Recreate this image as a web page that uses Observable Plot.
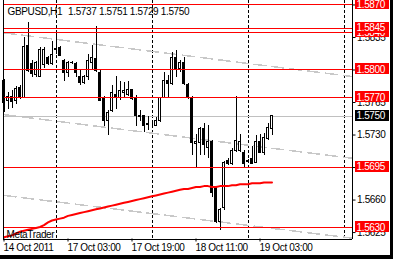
<!DOCTYPE html>
<html><head><meta charset="utf-8">
<script src="https://cdn.jsdelivr.net/npm/d3@7"></script>
<script src="https://cdn.jsdelivr.net/npm/@observablehq/plot@0.6"></script>
<style>
html,body{margin:0;padding:0;background:#000;}
#chart{width:390px;height:255px;overflow:hidden;}
</style></head><body><div id="chart"></div>
<script>
const symbol = "GBPUSD,H1";
const open  = [1.5788,1.5767,1.5771,1.5767,1.5781,1.5770,1.5826,1.5806,1.5795,1.5793,1.5805,1.5813,1.5806,1.5822,1.5824,1.5810,1.5797,1.5808,1.5806,1.5792,1.5786,1.5792,1.5808,1.5812,1.5797,1.5770,1.5745,1.5756,1.5773,1.5770,1.5775,1.5773,1.5778,1.5770,1.5751,1.5750,1.5742,1.5742,1.5740,1.5745,1.5770,1.5788,1.5785,1.5813,1.5801,1.5807,1.5784,1.5770,1.5720,1.5721,1.5737,1.5716,1.5722,1.5672,1.5636,1.5651,1.5702,1.5699,1.5713,1.5713,1.5711,1.5701,1.5704,1.5700,1.5722,1.5711,1.5726,1.5737];
const high  = [1.5790,1.5776,1.5778,1.5782,1.5783,1.5835,1.5851,1.5810,1.5809,1.5824,1.5824,1.5815,1.5831,1.5840,1.5825,1.5811,1.5809,1.5809,1.5808,1.5801,1.5794,1.5817,1.5826,1.5847,1.5800,1.5772,1.5756,1.5783,1.5793,1.5788,1.5787,1.5788,1.5779,1.5773,1.5756,1.5751,1.5750,1.5745,1.5749,1.5770,1.5797,1.5794,1.5819,1.5821,1.5810,1.5813,1.5786,1.5771,1.5731,1.5738,1.5742,1.5740,1.5724,1.5673,1.5651,1.5702,1.5705,1.5715,1.5772,1.5731,1.5713,1.5704,1.5718,1.5729,1.5731,1.5732,1.5742,1.5751];
const low   = [1.5754,1.5758,1.5759,1.5763,1.5768,1.5769,1.5797,1.5792,1.5792,1.5792,1.5802,1.5805,1.5805,1.5817,1.5814,1.5788,1.5792,1.5806,1.5792,1.5783,1.5784,1.5789,1.5799,1.5797,1.5767,1.5739,1.5729,1.5754,1.5758,1.5767,1.5770,1.5772,1.5767,1.5739,1.5745,1.5733,1.5735,1.5738,1.5739,1.5743,1.5769,1.5770,1.5783,1.5792,1.5797,1.5783,1.5768,1.5708,1.5694,1.5708,1.5708,1.5705,1.5663,1.5635,1.5627,1.5649,1.5697,1.5697,1.5711,1.5711,1.5694,1.5699,1.5698,1.5699,1.5710,1.5708,1.5724,1.5729];
const close = [1.5764,1.5771,1.5766,1.5780,1.5770,1.5825,1.5799,1.5796,1.5808,1.5822,1.5821,1.5806,1.5816,1.5823,1.5815,1.5797,1.5807,1.5807,1.5797,1.5786,1.5792,1.5810,1.5813,1.5799,1.5767,1.5745,1.5754,1.5775,1.5770,1.5777,1.5777,1.5778,1.5769,1.5751,1.5749,1.5740,1.5741,1.5742,1.5745,1.5770,1.5788,1.5785,1.5813,1.5801,1.5807,1.5785,1.5770,1.5721,1.5722,1.5737,1.5719,1.5722,1.5668,1.5636,1.5649,1.5700,1.5699,1.5713,1.5724,1.5722,1.5699,1.5702,1.5699,1.5722,1.5711,1.5727,1.5738,1.5750];
const maValues = [1.5620,1.5621,1.5622,1.5624,1.5626,1.5627,1.5628,1.5629,1.5630,1.5631,1.5633,1.5636,1.5638,1.5639,1.5640,1.5641,1.5643,1.5644,1.5645,1.5646,1.5647,1.5648,1.5649,1.5650,1.5651,1.5652,1.5653,1.5654,1.5655,1.5656,1.5657,1.5658,1.5659,1.5660,1.5661,1.5662,1.5663,1.5664,1.5665,1.5666,1.5667,1.5668,1.5669,1.5670,1.5671,1.5672,1.5672,1.5673,1.5674,1.5674,1.5675,1.5675,1.5674,1.5674,1.5675,1.5675,1.5675,1.5676,1.5676,1.5677,1.5677,1.5677,1.5678,1.5678,1.5678,1.5679,1.5679,1.5679];
const levels = [1.5870, 1.5840, 1.5845, 1.5800, 1.5770, 1.5695, 1.5630];
const bid = 1.5750;
const priceTicks = [1.5625, 1.5660, 1.5695, 1.5730, 1.5765, 1.5800, 1.5835, 1.5870];
const separatorBars = [13, 37, 61, 85];
const timeTickBars = [0, 16, 32, 48, 64];
const timeLabels = ["14 Oct 2011", "17 Oct 03:00", "17 Oct 19:00", "18 Oct 11:00", "19 Oct 03:00"];
const channelBars = [0, 87];
const channelStart = [1.5840, 1.5752, 1.5665];
const channelEnd = [1.5793, 1.5705, 1.5619];

const yMin = 1.561808, yMax = 1.587481, xStart = -0.25, xEnd = 87;
const bars = open.map((o, i) => ({i, o, h: high[i], l: low[i], c: close[i]}));
const ma = maValues.map((v, i) => ({i, v}));
const channels = channelStart.flatMap((s, k) => [{k, i: channelBars[0], v: s}, {k, i: channelBars[1], v: channelEnd[k]}]);
const fmt = d => d.toFixed(4);
const last = open.length - 1;
const headerNums = [open[last], high[last], low[last], close[last]].map(fmt).join(" ");

function priceLabel(v, bg) {
  return [
    Plot.rect([v], {x1: () => xEnd, x2: () => xEnd, y1: d => d, y2: d => d, insetLeft: 3.5, insetRight: -37, insetTop: -6, insetBottom: -5, fill: bg, shapeRendering: "crispEdges"}),
    Plot.text([v], {x: () => xEnd, y: d => d, text: fmt, dx: 4.5, dy: -0.5, textAnchor: "start", fill: "#fff", fontSize: 10})
  ];
}

const chart = Plot.plot({
  width: 390, height: 255,
  marginLeft: 2.5, marginRight: 38.5, marginTop: 0, marginBottom: 16.5,
  x: {type: "linear", domain: [xStart, xEnd], axis: null},
  y: {type: "linear", domain: [yMin, yMax], axis: null, label: null},
  style: {background: "#fff", color: "#000", fontFamily: "'Liberation Sans', Arial, sans-serif", fontSize: "10px", letterSpacing: "-0.35px"},
  marks: [
    Plot.ruleX(separatorBars, {x: d => d, stroke: "#000", strokeDasharray: "3,2", shapeRendering: "crispEdges"}),
    Plot.line(channels, {x: "i", y: "v", z: "k", stroke: "#c8c8c8", strokeDasharray: "12,6", shapeRendering: "crispEdges"}),
    Plot.ruleY([bid], {y: d => d, stroke: "#c0c0c0", shapeRendering: "crispEdges"}),
    Plot.ruleX(bars, {x: "i", y1: "l", y2: "h", stroke: "#000", shapeRendering: "crispEdges"}),
    Plot.rect(bars.filter(d => d.c >= d.o), {x1: d => d.i - 0.25, x2: d => d.i + 0.25, y1: "o", y2: "c", fill: "#fff", stroke: "#000", shapeRendering: "crispEdges"}),
    Plot.rect(bars.filter(d => d.c < d.o), {x1: d => d.i - 0.25, x2: d => d.i + 0.25, y1: "o", y2: "c", fill: "#000", stroke: "#000", shapeRendering: "crispEdges"}),
    Plot.ruleY(levels, {y: d => d, stroke: "#ff0000", shapeRendering: "crispEdges"}),
    Plot.line(ma, {x: "i", y: "v", stroke: "#ff0000", strokeWidth: 2}),
    Plot.ruleX([xStart, xEnd], {x: d => d, stroke: "#000", shapeRendering: "crispEdges"}),
    Plot.ruleY([yMin], {y: d => d, stroke: "#000", shapeRendering: "crispEdges"}),
    Plot.axisY(priceTicks, {anchor: "right", tickFormat: fmt, tickSize: 3, tickPadding: 2, label: null, fontSize: 10}),
    Plot.axisX(timeTickBars, {anchor: "bottom", tickSize: 3, tickFormat: () => "", label: null}),
    Plot.text(timeTickBars, {x: d => d, text: (d, i) => timeLabels[i], frameAnchor: "bottom", dy: 9, dx: -0.5, textAnchor: "start", lineAnchor: "middle", fontSize: 10}),
    Plot.text([symbol], {frameAnchor: "top-left", dx: 4.5, dy: 11, textAnchor: "start", lineAnchor: "middle", fontSize: 10}),
    Plot.text([headerNums], {frameAnchor: "top-left", dx: 65, dy: 11, textAnchor: "start", lineAnchor: "middle", fontSize: 10}),
    Plot.text(["MetaTrader"], {frameAnchor: "bottom-left", dx: 3.5, dy: -4.5, textAnchor: "start", lineAnchor: "middle", fontSize: 10}),
    levels.map(v => priceLabel(v, "#ff0000")),
    priceLabel(bid, "#000")
  ]
});
document.getElementById("chart").append(chart);
</script></body></html>
